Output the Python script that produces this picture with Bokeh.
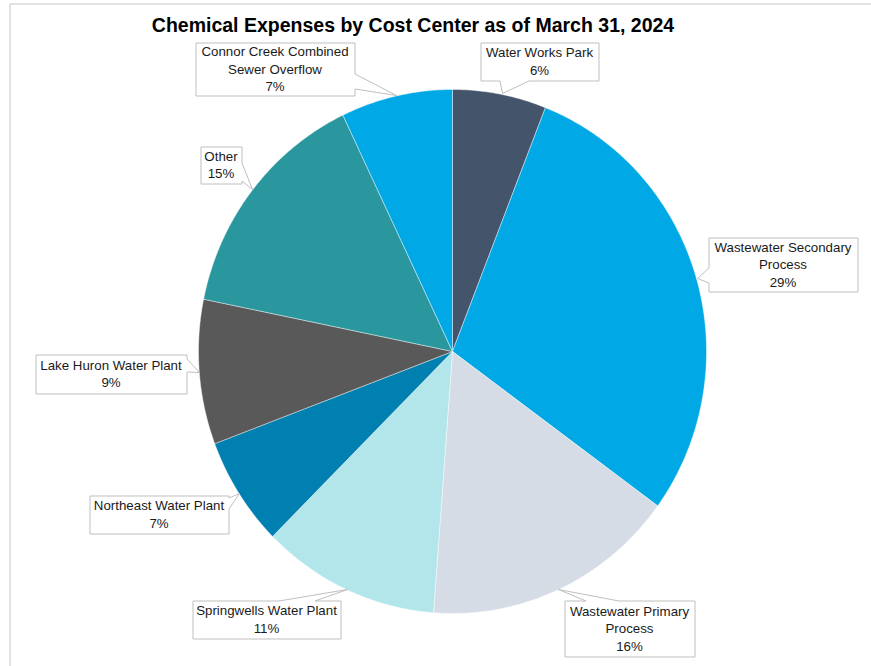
import numpy as np
from bokeh.plotting import figure
from bokeh.models import Range1d
from bokeh.core.properties import value
from bokeh.embed import file_html
from bokeh.resources import INLINE

# ---------------- data ----------------
title_text = "Chemical Expenses by Cost Center as of March 31, 2024"
categories = ["Water Works Park", "Wastewater Secondary Process", "Wastewater Primary Process",
              "Springwells Water Plant", "Northeast Water Plant", "Lake Huron Water Plant",
              "Other", "Connor Creek Combined Sewer Overflow"]
label_lines = [["Water Works Park"], ["Wastewater Secondary", "Process"],
               ["Wastewater Primary", "Process"], ["Springwells Water Plant"],
               ["Northeast Water Plant"], ["Lake Huron Water Plant"],
               ["Other"], ["Connor Creek Combined", "Sewer Overflow"]]
shares = [5.96, 29.07, 16.16, 11.34, 6.75, 8.92, 14.70, 7.10]

# ---------------- style / layout ----------------
colors = ["#44546A", "#00A9E6", "#D6DCE5", "#B3E6EB", "#0080B0", "#595959", "#2A979F", "#00A9E6"]
FONT = "Liberation Sans"
W, H = 871, 666
CX, CY, RX, RY = 452, 351, 254, 262
LINE_H = 17.5

# box (left, top, right, bottom), pointer side, pointer base, pointer tip
callouts = [
    dict(box=(480, 42, 598, 80), side="bottom", base=(499, 528), tip=(502, 93)),
    dict(box=(708, 237, 857, 291), side="left", base=(267, 282), tip=(697, 278)),
    dict(box=(564, 600, 694, 656), side="top", base=(585, 618), tip=(558, 589)),
    dict(box=(192, 600, 340, 638), side="top", base=(278, 314), tip=(347, 589)),
    dict(box=(89, 495, 228, 533), side="right", base=(497, 508), tip=(239, 493)),
    dict(box=(35, 354, 186, 393), side="right", base=(358, 371), tip=(199, 372)),
    dict(box=(200, 146, 241, 183), side="right", base=(162, 180), tip=(252, 189)),
    dict(box=(195, 42, 354, 95), side="right", base=(73, 88), tip=(396, 95)),
]

p = figure(width=W, height=H, x_range=Range1d(0, W), y_range=Range1d(H, 0),
           output_backend="svg", toolbar_location=None, tools="", min_border=0,
           x_axis_type=None, y_axis_type=None)
p.grid.visible = False
p.outline_line_color = None
p.background_fill_color = "white"
p.border_fill_color = "white"

# chart frame (top/left visible edges)
p.segment(x0=[9.5, 9.5], y0=[3.5, 3.5], x1=[9.5, W], y1=[H, 3.5],
          line_color="#D9D9D9", line_width=1.5)

# pie slices
total = float(sum(shares))
cum = np.concatenate([[0.0], np.cumsum(shares)]) / total * 2 * np.pi
xs, ys = [], []
for i in range(len(shares)):
    n = max(int((cum[i + 1] - cum[i]) * 80), 10)
    t = np.linspace(cum[i], cum[i + 1], n)
    xs.append([CX] + list(CX + RX * np.sin(t)))
    ys.append([CY] + list(CY - RY * np.cos(t)))
p.patches(xs, ys, fill_color=colors, line_color="white", line_width=0.75, line_alpha=0.55)

# callouts
cxs, cys = [], []
for c in callouts:
    l, t_, r, b = [v + 0.5 for v in c["box"]]
    a0, a1 = [v + 0.5 for v in c["base"]]
    tx, ty = c["tip"]
    if c["side"] == "top":
        pts = [(l, t_), (a0, t_), (tx, ty), (a1, t_), (r, t_), (r, b), (l, b)]
    elif c["side"] == "right":
        pts = [(l, t_), (r, t_), (r, a0), (tx, ty), (r, a1), (r, b), (l, b)]
    elif c["side"] == "bottom":
        pts = [(l, t_), (r, t_), (r, b), (a1, b), (tx, ty), (a0, b), (l, b)]
    else:
        pts = [(l, t_), (r, t_), (r, b), (l, b), (l, a1), (tx, ty), (l, a0)]
    cxs.append([q[0] for q in pts])
    cys.append([q[1] for q in pts])
p.patches(cxs, cys, fill_color="white", line_color="#BFBFBF", line_width=1)

# callout texts
tx_, ty_, tt_ = [], [], []
for c, lines, v in zip(callouts, label_lines, shares):
    l, t_, r, b = c["box"]
    all_lines = lines + [f"{round(v / total * 100)}%"]
    mid = (t_ + b) / 2.0
    y0 = mid - LINE_H * (len(all_lines) - 1) / 2.0
    for k, s in enumerate(all_lines):
        tx_.append((l + r) / 2.0)
        ty_.append(y0 + k * LINE_H)
        tt_.append(s)
p.text(x=tx_, y=ty_, text=tt_, text_font=value(FONT), text_font_size=value("13.3px"),
       text_align="center", text_baseline="middle", text_color="#1A1A1A")

# title
p.text(x=[412.5], y=[24], text=[title_text], text_font=value(FONT),
       text_font_size=value("19.5px"), text_font_style="bold",
       text_align="center", text_baseline="middle", text_color="#000000")

open("out.html", "w").write(file_html(p, INLINE))
